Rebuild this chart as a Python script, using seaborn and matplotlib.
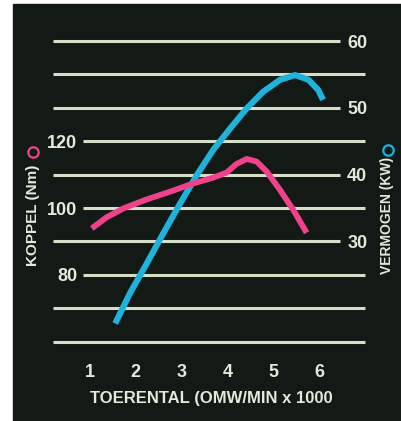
import matplotlib
matplotlib.use('Agg')
import matplotlib.pyplot as plt
from matplotlib.lines import Line2D
from matplotlib.patches import Rectangle
import pandas as pd
import seaborn as sns

# Torque curve (Nm) against engine speed (x 1000 rpm).
koppel_rpm = [1.04, 1.36, 1.73, 2.24, 2.75, 3.26, 3.69, 3.98, 4.20, 4.42,
              4.64, 4.86, 5.15, 5.44, 5.73]
koppel_nm = [93.9, 97.2, 99.9, 102.6, 104.9, 107.4, 109.1, 110.6, 113.2,
             114.7, 113.9, 110.9, 105.4, 99.4, 92.6]

# Power curve (kW) against engine speed (x 1000 rpm).
vermogen_rpm = [1.55, 1.87, 2.24, 2.60, 2.97, 3.33, 3.69, 4.06, 4.42, 4.78,
                5.15, 5.48, 5.77, 5.98, 6.09]
vermogen_kw = [17.7, 22.2, 26.7, 31.2, 35.7, 39.9, 43.7, 46.9, 49.9, 52.4,
               54.2, 54.9, 54.2, 52.7, 51.2]

x_ticks = [1, 2, 3, 4, 5, 6]
koppel_ticks = [80, 100, 120]
vermogen_ticks = [30, 40, 50, 60]
grid_kw = [15, 20, 25, 30, 35, 40, 45, 50, 55, 60]

# Colours.
bg = '#131915'
fg = '#e4eada'
grid_c = '#d5dfc6'
pink = '#f0428c'
blue = '#1fb3db'

sns.set_style("dark")
plt.rcParams['font.family'] = ['Liberation Sans', 'DejaVu Sans']
plt.rcParams['font.weight'] = 'bold'

W, H = 402, 421
fig = plt.figure(figsize=(W / 100, H / 100), dpi=100)
fig.patch.set_facecolor('white')
fig.add_artist(Rectangle((13 / W, 0), 1 - 13 / W, 1 - 4 / H,
                         transform=fig.transFigure, color=bg, zorder=0))

# Power axis (grid + blue) below, torque axis (pink) on top.
ax2 = fig.add_axes([80 / W, 1 - 350 / H, 263 / W, 320 / H])
ax = ax2.twinx()
ax.set_zorder(3)
for a in (ax, ax2):
    a.patch.set_visible(False)
    for s in a.spines.values():
        s.set_visible(False)
    a.grid(False)

ax2.set_xlim(0.782, 6.524)
ax2.set_ylim(13.74, 61.65)
ax.set_ylim(57.5, 153.3)

for kw in grid_kw:
    xmin = 0.847 if (kw - 15) * 2 + 60 in koppel_ticks else 0.192
    xmax = 6.46 if kw in vermogen_ticks else 7.004
    ax2.hlines(kw, xmin, xmax, color=grid_c, lw=2.2, clip_on=False, zorder=1)

pw = pd.DataFrame({"rpm": vermogen_rpm, "kw": vermogen_kw})
tq = pd.DataFrame({"rpm": koppel_rpm, "nm": koppel_nm})
sns.lineplot(data=pw, x="rpm", y="kw", ax=ax2, color=blue, lw=4.4,
             sort=False, solid_capstyle='butt', solid_joinstyle='round',
             zorder=3)
sns.lineplot(data=tq, x="rpm", y="nm", ax=ax, color=pink, lw=4.2,
             sort=False, solid_capstyle='butt', solid_joinstyle='round',
             zorder=3)

# Ticks: torque on the left, power on the right.
ax2.yaxis.tick_right()
ax.yaxis.tick_left()
ax.set_yticks(koppel_ticks)
ax2.set_yticks(vermogen_ticks)
ax2.set_xticks(x_ticks)
ax.tick_params(axis='y', length=0, pad=2, colors=fg, labelsize=13)
ax2.tick_params(axis='y', length=0, pad=3, colors=fg, labelsize=13)
ax2.tick_params(axis='x', length=0, pad=10, colors=fg, labelsize=13)
ax.xaxis.set_visible(False)
ax.set_ylabel('')
ax2.set_ylabel('')
ax2.set_xlabel('TOERENTAL (OMW/MIN x 1000', color=fg, fontsize=12,
               fontweight='bold')
ax2.xaxis.label.set_va('center')
ax2.xaxis.set_label_coords(0.5, -48 / 320)

fig.text(33 / W, 1 - 215 / H, 'KOPPEL (Nm)', rotation=90, ha='center',
         va='center', color=fg, fontsize=11, fontweight='bold')
fig.text(387 / W, 1 - 215 / H, 'VERMOGEN (KW)', rotation=90, ha='center',
         va='center', color=fg, fontsize=10, fontweight='bold')
fig.add_artist(Line2D([33 / W], [1 - 152 / H], marker='o', ms=7.5, mfc='none',
                      mec=pink, mew=1.6, transform=fig.transFigure))
fig.add_artist(Line2D([388 / W], [1 - 150 / H], marker='o', ms=7.5, mfc='none',
                      mec=blue, mew=1.6, transform=fig.transFigure))

fig.savefig('out.png', dpi=100, facecolor=fig.get_facecolor())
